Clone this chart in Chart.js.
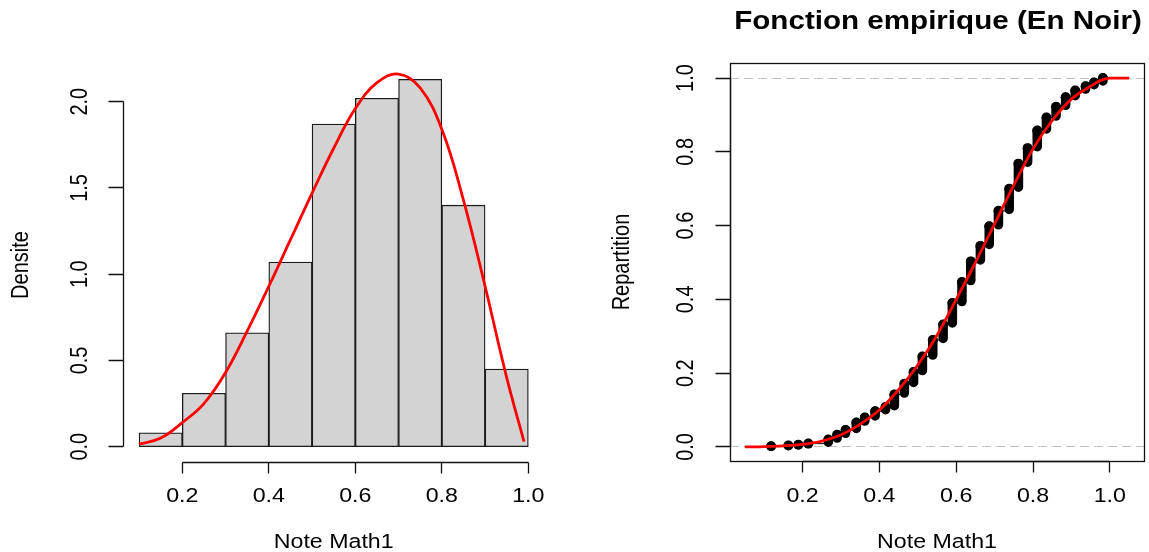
<!DOCTYPE html>
<html lang="fr">
<head>
<meta charset="UTF-8">
<title>Note Math1</title>
<style>
  html, body { margin: 0; padding: 0; background: #fff; }
  .panel { position: absolute; top: 0; }
  #left { left: 0; }
  #right { left: 575px; }
</style>
</head>
<body>
<div class="panel" id="left"><canvas id="histChart" width="575" height="552"></canvas></div>
<div class="panel" id="right"><canvas id="ecdfChart" width="574" height="552"></canvas></div>
<script src="https://cdn.jsdelivr.net/npm/chart.js"></script>
<script>
// --- histogramme (gauche)
const breaks = [0.1, 0.2, 0.3, 0.4, 0.5, 0.6, 0.7, 0.8, 0.9, 1.0];
const densite = [0.08, 0.31, 0.66, 1.07, 1.87, 2.02, 2.13, 1.40, 0.45];
const densX = [0.10, 0.15, 0.20, 0.25, 0.30, 0.35, 0.40, 0.45, 0.50, 0.55, 0.60, 0.65, 0.70, 0.75, 0.80, 0.85, 0.90, 0.95, 0.99];
const densY = [0.015, 0.05, 0.14, 0.25, 0.43, 0.67, 0.93, 1.20, 1.47, 1.73, 1.96, 2.11, 2.16, 2.08, 1.84, 1.43, 0.93, 0.40, 0.03];
const histXTicks = [0.2, 0.4, 0.6, 0.8, 1.0];
const histYTicks = [0, 0.5, 1.0, 1.5, 2.0];

// --- fonction empirique (droite)
const ecdfX = [0.118, 0.163, 0.189, 0.215, 0.267, 0.29, 0.312, 0.34, 0.362, 0.389, 0.416, 0.439, 0.465, 0.489, 0.512, 0.539, 0.566, 0.59,
               0.615, 0.638, 0.663, 0.686, 0.71, 0.738, 0.762, 0.786, 0.811, 0.835, 0.86, 0.885, 0.91, 0.937, 0.959, 0.982];
const ecdfF = [0.002, 0.004, 0.006, 0.009, 0.02, 0.033, 0.046, 0.066, 0.08, 0.097, 0.108, 0.142, 0.171, 0.203, 0.245, 0.29, 0.332, 0.39,
               0.447, 0.503, 0.545, 0.598, 0.64, 0.70, 0.768, 0.81, 0.858, 0.893, 0.922, 0.948, 0.966, 0.978, 0.988, 1.0];
const cdfX = [0.05, 0.10, 0.15, 0.20, 0.25, 0.30, 0.35, 0.40, 0.45, 0.50, 0.55, 0.60, 0.65, 0.70, 0.75, 0.80, 0.85, 0.90, 0.95, 0.975, 1.0, 1.05];
const cdfY = [0, 0.001, 0.003, 0.007, 0.016, 0.033, 0.062, 0.10, 0.155, 0.222, 0.303, 0.40, 0.50, 0.605, 0.71, 0.808, 0.885, 0.943, 0.978, 0.993, 1.0, 1.0];
const ecdfXTicks = [0.2, 0.4, 0.6, 0.8, 1.0];
const ecdfYTicks = [0, 0.2, 0.4, 0.6, 0.8, 1.0];

const STRETCH = 1.16;
const FONT = '20px "Liberation Sans", Arial, sans-serif';

function rText(ctx, txt, x, y, font, rot) {
    ctx.save();
    ctx.translate(x, y);
    ctx.scale(STRETCH, 1);
    if (rot) ctx.rotate(-Math.PI / 2);
    ctx.font = font;
    ctx.fillStyle = '#000';
    ctx.textAlign = 'center';
    ctx.textBaseline = 'middle';
    ctx.fillText(txt, 0, 0);
    ctx.restore();
}

function crisp(v) { return Math.round(v - 0.5) + 0.5; }

// axes facon R
function rAxes(cfg) {
    return {
        id: 'rAxes',
        beforeDatasetsDraw(chart) {
            if (!cfg.hLines) return;
            const { ctx, chartArea: a, scales: { y } } = chart;
            ctx.save();
            ctx.strokeStyle = '#BEBEBE';
            ctx.lineWidth = 1;
            ctx.setLineDash([9, 5]);
            cfg.hLines.forEach(v => {
                const py = crisp(y.getPixelForValue(v));
                ctx.beginPath();
                ctx.moveTo(a.left, py);
                ctx.lineTo(a.right, py);
                ctx.stroke();
            });
            ctx.restore();
        },
        afterDraw(chart) {
            const { ctx, chartArea: a, scales: { x, y } } = chart;
            const bottom = crisp(a.bottom), left = crisp(a.left);
            ctx.save();
            ctx.strokeStyle = '#111';
            ctx.lineWidth = 1.3;
            ctx.beginPath();
            // axe x
            const xt = cfg.xTicks;
            ctx.moveTo(crisp(x.getPixelForValue(xt[0])), bottom);
            ctx.lineTo(crisp(x.getPixelForValue(xt[xt.length - 1])), bottom);
            xt.forEach(v => {
                const px = crisp(x.getPixelForValue(v));
                ctx.moveTo(px, bottom);
                ctx.lineTo(px, bottom + 11);
            });
            // axe y
            const yt = cfg.yTicks;
            ctx.moveTo(left, crisp(y.getPixelForValue(yt[0])));
            ctx.lineTo(left, crisp(y.getPixelForValue(yt[yt.length - 1])));
            yt.forEach(v => {
                const py = crisp(y.getPixelForValue(v));
                ctx.moveTo(left, py);
                ctx.lineTo(left - 15, py);
            });
            ctx.stroke();
            if (cfg.box) {
                ctx.strokeRect(left, crisp(a.top), Math.round(a.width), Math.round(a.height));
            }
            ctx.restore();

            xt.forEach(v => rText(ctx, v.toFixed(1), x.getPixelForValue(v), a.bottom + 34.5, FONT, false));
            yt.forEach(v => rText(ctx, v.toFixed(1), a.left - 43, y.getPixelForValue(v), FONT, true));
            rText(ctx, cfg.xlab, (a.left + a.right) / 2, a.bottom + 80.5, FONT, false);
            rText(ctx, cfg.ylab, a.left - cfg.ylabOffset, cfg.ylabY, FONT, true);
            if (cfg.title) {
                rText(ctx, cfg.title, (a.left + a.right) / 2 + 1, 22, 'bold 25.5px "Liberation Sans", Arial, sans-serif', false);
            }
        }
    };
}

// histogramme + densite
new Chart(document.getElementById('histChart'), {
    type: 'bar',
    data: {
        datasets: [{
            type: 'line',
            data: densX.map((x, i) => ({ x: x, y: densY[i] })),
            borderColor: '#FF0000',
            borderWidth: 2.8,
            pointRadius: 0,
            tension: 0.4,
            order: 0
        }, {
            type: 'bar',
            data: densite.map((d, i) => ({ x: (breaks[i] + breaks[i + 1]) / 2, y: d })),
            backgroundColor: '#D3D3D3',
            borderColor: '#1a1a1a',
            borderWidth: 1.3,
            borderSkipped: false,
            barPercentage: 1,
            categoryPercentage: 1,
            order: 1
        }]
    },
    options: {
        responsive: false,
        animation: false,
        events: [],
        layout: { padding: { left: 123.5, right: 31.1, top: 41.3, bottom: 89.7 } },
        plugins: { legend: { display: false }, tooltip: { enabled: false } },
        scales: {
            x: { type: 'linear', min: 0.064, max: 1.036, offset: false, display: false },
            y: { type: 'linear', min: -0.0904, max: 2.35, display: false }
        }
    },
    plugins: [rAxes({
        xTicks: histXTicks, yTicks: histYTicks,
        xlab: 'Note Math1', ylab: 'Densite', ylabOffset: 102, ylabY: 265
    })]
});

// fonction de repartition empirique
const blobs = [];
ecdfX.forEach((x, i) => {
    const prev = i === 0 ? 0 : ecdfF[i - 1];
    blobs.push({ x: x, y: Math.min(prev + 0.004, ecdfF[i]) });
    blobs.push({ x: x, y: ecdfF[i] });
    blobs.push({ x: x, y: null });
});
const marge = 0.08 * (ecdfX[ecdfX.length - 1] - ecdfX[0]);
const escalier = [{ x: ecdfX[0] - marge, y: 0 }]
    .concat(ecdfX.map((x, i) => ({ x: x, y: ecdfF[i] })))
    .concat([{ x: ecdfX[ecdfX.length - 1] + marge, y: 1 }]);

new Chart(document.getElementById('ecdfChart'), {
    type: 'line',
    data: {
        datasets: [{
            data: cdfX.map((x, i) => ({ x: x, y: cdfY[i] })),
            borderColor: '#FF0000',
            borderWidth: 2.8,
            pointRadius: 0,
            cubicInterpolationMode: 'monotone'
        }, {
            data: ecdfX.map((x, i) => ({ x: x, y: ecdfF[i] })),
            showLine: false,
            pointRadius: 5,
            pointBackgroundColor: '#000',
            pointBorderWidth: 0
        }, {
            data: blobs,
            borderColor: '#000',
            borderWidth: 9.5,
            borderCapStyle: 'round',
            pointRadius: 0,
            spanGaps: false
        }, {
            data: escalier,
            borderColor: '#000',
            borderWidth: 1,
            stepped: 'before',
            pointRadius: 0
        }]
    },
    options: {
        responsive: false,
        animation: false,
        events: [],
        layout: { padding: { left: 155, right: 1.7, top: 63.3, bottom: 90.3 } },
        plugins: { legend: { display: false }, tooltip: { enabled: false } },
        scales: {
            x: { type: 'linear', min: 0.011, max: 1.089, display: false },
            y: { type: 'linear', min: -0.04, max: 1.04, display: false }
        }
    },
    plugins: [rAxes({
        xTicks: ecdfXTicks, yTicks: ecdfYTicks, box: true, hLines: [0, 1],
        xlab: 'Note Math1', ylab: 'Repartition', ylabOffset: 107, ylabY: 262,
        title: 'Fonction empirique (En Noir)'
    })]
});
</script>
</body>
</html>
